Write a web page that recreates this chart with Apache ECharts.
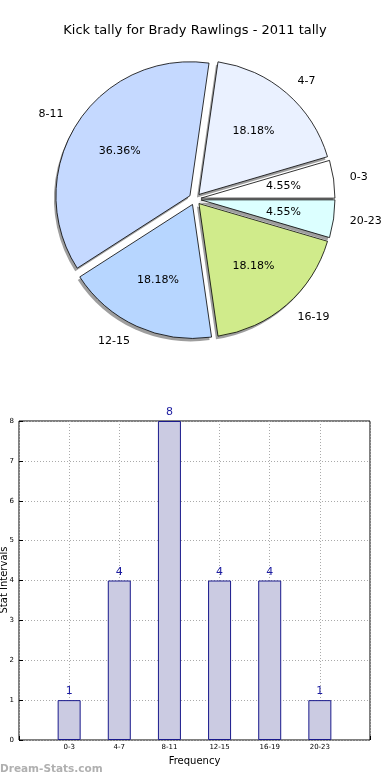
<!DOCTYPE html>
<html><head><meta charset="utf-8">
<script src="https://cdn.jsdelivr.net/npm/echarts@6/dist/echarts.min.js"></script>
<style>html,body{margin:0;padding:0;background:#fff}#c{width:390px;height:780px}</style>
</head><body><div id="c"></div>
<script>
var titleText = 'Kick tally for Brady Rawlings - 2011 tally';
var categories = ['0-3', '4-7', '8-11', '12-15', '16-19', '20-23'];
var tallies = [1, 4, 8, 4, 4, 1];
var sliceColors = ['#ffffff', '#eaf1ff', '#c5d9ff', '#b7d6ff', '#d0eb8b', '#dcffff'];
var yTicks = [0, 1, 2, 3, 4, 5, 6, 7, 8];

var total = tallies.reduce(function(a, b){ return a + b; }, 0);
var R = 134, CX = 195, CY = 199, OFF = 6;
var FONT = 'DejaVu Sans';

// side of each slice (for label alignment, like matplotlib)
var acc = 0;
var sides = tallies.map(function(v){
  var mid = (acc + v / 2) / total * 2 * Math.PI; acc += v;
  return Math.cos(mid) >= 0 ? 'L' : 'R';
});

function pieData(kind){
  return categories.map(function(c, i){
    var d = { name: c, value: tallies[i], selected: true };
    if (kind === 'shape') d.itemStyle = { color: sliceColors[i] };
    return d;
  });
}
var basePie = {
  type: 'pie', center: [CX, CY], clockwise: false, startAngle: 0,
  selectedMode: 'multiple', selectedOffset: OFF, avoidLabelOverlap: false,
  animation: false, silent: true, labelLine: { show: false }
};

var chart = echarts.init(document.getElementById('c'), null, { renderer: 'canvas' });
chart.setOption({
  animation: false,
  title: { text: titleText, left: 'center', top: 19,
    textStyle: { fontFamily: FONT, fontSize: 13, fontWeight: 'normal', color: '#000' } },
  graphic: [
    { type: 'text', left: 0, top: 764,
      style: { text: 'Dream-Stats.com', font: 'bold 10.5px "DejaVu Sans"', fill: '#b0b0b0' } },
    { type: 'text', x: 4, y: 580, rotation: Math.PI / 2,
      style: { text: 'Stat Intervals', font: '10px "DejaVu Sans"', fill: '#000', align: 'center', verticalAlign: 'middle' } }
  ],
  grid: { left: 19, top: 421, right: 20, bottom: 40, show: true, borderColor: '#000', borderWidth: 1,
    containLabel: false, outerBoundsMode: 'none' },
  xAxis: {
    type: 'value', min: 0, max: 7, interval: 1,
    name: 'Frequency', nameLocation: 'middle', nameGap: 16,
    nameTextStyle: { fontFamily: FONT, fontSize: 10, color: '#000' },
    axisLine: { show: false },
    axisTick: { show: true, inside: true, length: 4, lineStyle: { color: '#000' } },
    axisLabel: { fontFamily: FONT, fontSize: 7, color: '#000', margin: 4,
      formatter: function(v){ return categories[v - 1] || ''; } },
    splitLine: { show: true, lineStyle: { type: [1, 2], color: '#aaaaaa' } }
  },
  yAxis: {
    type: 'value', min: 0, max: 8, interval: 1,
    axisLine: { show: false },
    axisTick: { show: true, inside: true, length: 4, lineStyle: { color: '#000' } },
    axisLabel: { fontFamily: FONT, fontSize: 7, color: '#000', margin: 5 },
    splitLine: { show: true, lineStyle: { type: [1, 2], color: '#aaaaaa' } }
  },
  series: [
    Object.assign({}, basePie, {
      center: [CX - 2, CY + 3],
      radius: [0, R], data: pieData('shadow'), z: 1,
      itemStyle: { color: 'rgba(0,0,0,0.38)', borderWidth: 0 },
      label: { show: false }
    }),
    Object.assign({}, basePie, {
      radius: [0, R], data: pieData('shape'), z: 2,
      itemStyle: { borderColor: '#000', borderWidth: 0.8 },
      label: { show: false }
    }),
    Object.assign({}, basePie, {
      radius: [0, R * 1.2], data: pieData('pct'), z: 3,
      itemStyle: { color: 'rgba(0,0,0,0)', borderWidth: 0 },
      label: { show: true, position: 'inside', fontFamily: FONT, fontSize: 11, color: '#000',
        formatter: function(p){ return (p.value / total * 100).toFixed(2) + '%'; } }
    }),
    Object.assign({}, basePie, {
      radius: [0, R * 2.2], data: pieData('outer'), z: 3,
      itemStyle: { color: 'rgba(0,0,0,0)', borderWidth: 0 },
      label: { show: true, position: 'inside', fontFamily: FONT, fontSize: 11, color: '#000',
        formatter: function(p){ return '{' + sides[p.dataIndex] + '|' + p.name + '}'; },
        rich: {
          L: { fontFamily: FONT, fontSize: 11, color: '#000', width: 44, align: 'left', padding: [0, 0, 0, 44] },
          R: { fontFamily: FONT, fontSize: 11, color: '#000', width: 44, align: 'right', padding: [0, 44, 0, 0] }
        } }
    }),
    {
      type: 'bar', barWidth: 23,
      data: tallies.map(function(v, i){ return [i + 1, v]; }),
      itemStyle: { color: '#cbcbe2', borderColor: '#1a1a8c', borderWidth: 1 },
      label: { show: true, position: 'top', distance: 3, fontFamily: FONT, fontSize: 11, color: '#1c1ca0' },
      z: 1
    }
  ]
});
</script></body></html>
